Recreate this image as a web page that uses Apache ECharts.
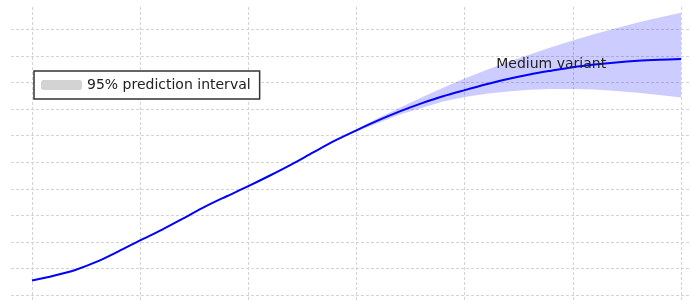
<!DOCTYPE html>
<html>
<head>
<meta charset="utf-8">
<script src="https://cdn.jsdelivr.net/npm/echarts@6/dist/echarts.min.js"></script>
<style>
  html, body { margin: 0; padding: 0; background: #fff; }
  #chart { width: 691px; height: 300px; }
</style>
</head>
<body>
<div id="chart"></div>
<script>
// years of the medium variant (5-year steps)
let years = [1950, 1955, 1960, 1965, 1970, 1975, 1980, 1985, 1990, 1995, 2000, 2005, 2010, 2015, 2020,
    2025, 2030, 2035, 2040, 2045, 2050, 2055, 2060, 2065, 2070, 2075, 2080, 2085, 2090, 2095, 2100]
let medium = [0.55, 0.73, 0.95, 1.26, 1.65, 2.06, 2.46, 2.89, 3.33, 3.72, 4.10, 4.50, 4.92, 5.37, 5.81,
    6.20, 6.57, 6.91, 7.21, 7.48, 7.71, 7.93, 8.13, 8.30, 8.44, 8.57, 8.67, 8.75, 8.81, 8.85, 8.88]
// 95% prediction interval (projection years)
let bandYears = [2020, 2025, 2030, 2035, 2040, 2045, 2050, 2055, 2060, 2065, 2070, 2075, 2080, 2085, 2090, 2095, 2100]
let lower = [5.81, 6.15, 6.47, 6.79, 7.04, 7.28, 7.45, 7.57, 7.66, 7.72, 7.75, 7.75, 7.73, 7.68, 7.61, 7.53, 7.43]
let upper = [5.81, 6.24, 6.66, 7.05, 7.43, 7.80, 8.15, 8.47, 8.77, 9.05, 9.32, 9.58, 9.82, 10.04, 10.25, 10.44, 10.62]
// grid lines
let xTicks = [1950, 1975, 2000, 2025, 2050, 2075, 2100]
let yTicks = [0, 1, 2, 3, 4, 5, 6, 7, 8, 9, 10]

const chart = echarts.init(document.getElementById('chart'))

const gridLineStyle = { color: '#d4d4d4', width: 1, type: [3, 2] }

// band polygon: upper edge forwards, lower edge backwards
function renderBand(params, api) {
    if (params.dataIndex !== 0) return;
    const pts = [];
    for (let i = 0; i < bandYears.length; i++) pts.push(api.coord([bandYears[i], upper[i]]));
    for (let i = bandYears.length - 1; i >= 0; i--) pts.push(api.coord([bandYears[i], lower[i]]));
    return {
        type: 'polygon',
        shape: { points: pts },
        style: { fill: 'rgba(0, 0, 255, 0.2)' }
    };
}

let option = {
    animation: false,
    textStyle: { fontFamily: 'DejaVu Sans' },
    grid: { left: 11, right: 0, top: 5, bottom: 0 },
    xAxis: { type: 'value', min: 1945.15, max: 2102.31, show: false },
    yAxis: { type: 'value', min: -0.18, max: 10.91, show: false },
    legend: {
        left: 34,
        top: 71,
        z: 10,
        padding: [7, 9, 7, 7],
        borderColor: '#333',
        borderWidth: 1.5,
        borderRadius: 0,
        backgroundColor: '#fff',
        itemWidth: 41,
        itemHeight: 10,
        selectedMode: false,
        textStyle: { fontSize: 14, color: '#222', fontFamily: 'DejaVu Sans' },
        data: [{ name: '95% prediction interval', icon: 'roundRect', itemStyle: { color: '#d3d3d3', borderWidth: 0 } }]
    },
    series: [
        {
            name: 'grid',
            type: 'line',
            data: [],
            silent: true,
            z: 1,
            markLine: {
                silent: true,
                z: 1,
                symbol: 'none',
                label: { show: false },
                lineStyle: gridLineStyle,
                animation: false,
                data: xTicks.map(v => ({ xAxis: v })).concat(yTicks.map(v => ({ yAxis: v })))
            }
        },
        {
            name: '95% prediction interval',
            type: 'custom',
            renderItem: renderBand,
            itemStyle: { color: '#d3d3d3' },
            data: bandYears.map((y, i) => [y, lower[i], upper[i]]),
            encode: { x: 0, y: [1, 2] },
            silent: true,
            z: 2
        },
        {
            name: 'Medium variant',
            type: 'line',
            showSymbol: false,
            symbol: 'none',
            smooth: 0.3,
            lineStyle: { color: '#0000ff', width: 2 },
            data: years.map((y, i) => [y, medium[i]]),
            z: 3,
            markPoint: {
                silent: true,
                z: 4,
                symbol: 'circle',
                symbolSize: 0,
                label: {
                    show: true,
                    position: 'inside',
                    formatter: 'Medium variant',
                    fontSize: 14,
                    color: '#222',
                    fontFamily: 'DejaVu Sans'
                },
                data: [{ coord: [2070, 8.67] }]
            }
        }
    ]
};

chart.setOption(option);
</script>
</body>
</html>
